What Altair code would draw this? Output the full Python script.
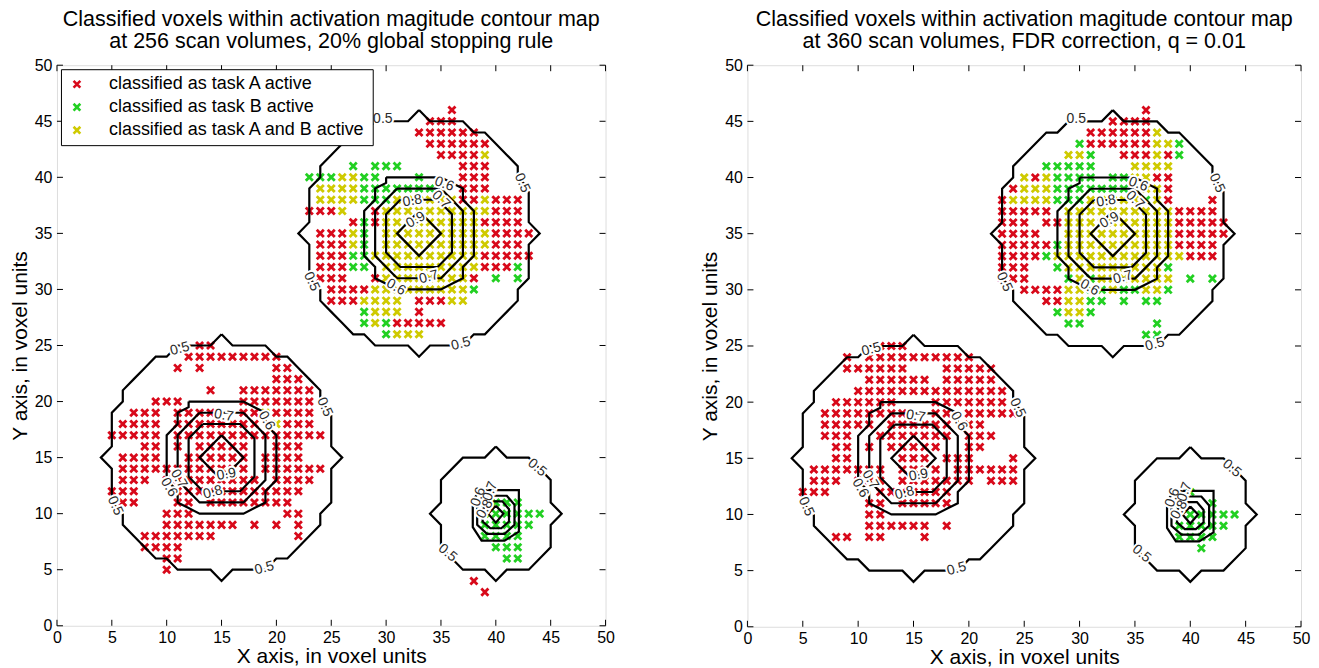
import altair as alt
import pandas as pd

FONT = "Liberation Sans"
RED, GREEN, YELLOW = "#d8091a", "#22d022", "#cfca00"
CATS = ["classified as task A active", "classified as task B active",
        "classified as task A and B active"]
CODE = {"R": CATS[0], "G": CATS[1], "Y": CATS[2]}
TICKS = [0, 5, 10, 15, 20, 25, 30, 35, 40, 45, 50]

TITLE_L = ["Classified voxels within activation magitude contour map",
           "at 256 scan volumes, 20% global stopping rule"]
TITLE_R = ["Classified voxels within activation magitude contour map",
           "at 360 scan volumes, FDR correction, q = 0.01"]
X_TITLE = "X axis, in voxel units"
Y_TITLE = "Y axis, in voxel units"

# ---- classified voxels: (first x, top y, rows from top to bottom) ----
L_TOP = (23, 46, [
    ".............R.......",
    "...........RRR.......",
    "..........RRRRRR.....",
    "...........RRRRRR....",
    "............RRRRY....",
    "....G.GGG.....RRR....",
    "GGGYYGG...G...RRR....",
    ".YYYYGGGGGGGG.RRR....",
    ".YYYYGGGYYYYYYRRYRRR.",
    "RRRY..RYYYYYYYYYYRRR.",
    "....RGRYYYYYYYYYRRRR.",
    ".RRRYG.YYYYYYYYYYRRRR",
    ".RRRYG.YYYYYYYYYYRRR.",
    ".RRRGGYYYYYYYYYYRRRRR",
    ".RRRGG.YYYYYYYYYRRRG.",
    ".RRR..RYYYYYYYYR.G.G.",
    "..RRRRYYYYYYYYYG.....",
    "..RRRYYYY.RRRYY......",
    ".....GYYY.R..........",
    ".....GYGRRRRR........",
    ".......GYYY..........",
])
L_LOW = (5, 25, [
    "........RR..........",
    ".......RRRRRRRRR....",
    "......R.R......RR...",
    "...............RRR..",
    ".........R..RRRRRRR.",
    "....RRR.....RRRRRRR.",
    "..RRR.RRRR..RRYRRRR.",
    ".RRRR.RRRRRRRR.YRRR.",
    "RRRRR.RRRRRRRRRRRRRR",
    "...RR.R.RRRRR..RRR..",
    ".RRRR..RRRRRR.RRRR..",
    ".RRRRRRRRRRRR.RRRRRR",
    ".RRR.RRRRRRRRR.RRRR.",
    "RRR...RRRRRRRRRRRR..",
    ".RR...RR.RRRRRRRR...",
    ".....RRR........RR..",
    ".....RRRRRRR.R.R.R..",
    "...RRRRRRR.......R..",
    "...RRRR.............",
    ".....RR.............",
    ".....R..............",
])
L_SMALL = (38, 11, [
    ".GGGG..",
    ".GGGGGG",
    ".GGGGG.",
    ".GGGG..",
    "..GGG..",
    "...GG..",
    ".......",
    "R......",
    ".R.....",
])
R_TOP = (23, 46, [
    ".............R.......",
    "..........RRRR.......",
    "........RRRRRRY......",
    ".......GRRRRRRYYG....",
    "......YYG..RRRYRG....",
    "....GGGGG...YYYY.....",
    "..YRYGGGG.GGYYRR.....",
    ".RYYYGGGGGGGGYYR.....",
    "RYYYYGGGYYYYYGYR...R.",
    "RRRRR.YYYYYYYYYYRRRR.",
    "RRR.RRYYYYYYYYYYRRRRR",
    "RRRR..YYYYYYYYYYRRRRR",
    "RRRRRGYYYYYYYYYYRRRR.",
    "RRRRGYYYYYYYYYYYYRRR.",
    "RRR..GYYYYYYYYYG.....",
    "RRR...GYGYYYYYYY.G.G.",
    "..RRRRYYGGYGGYYG.....",
    "....RRYYGG.G.GG......",
    ".....GYYG............",
    "......GG......G......",
    ".............GG......",
])
R_LOW = (5, 25, [
    ".......RRR..........",
    "....R.RRRRRRRRRR....",
    "....RRRRRR...RRRRR..",
    "......RRRRRR.RRRRR..",
    ".....RRRRRRRRRRRRRR.",
    "...RRRRRR...RRRRRRR.",
    "..RRRRRRRR..RR.RRRRR",
    "..RRRRR.RRRRRR.RR...",
    "..RRR..RRRRRRR.RRR..",
    "...RR.R.RRRRR..RR...",
    "...RR....RRR.RRR...R",
    ".RRRRRRR.RRRR.RRRRRR",
    ".RRR.RRR.RRRRRRR.RRR",
    "RRR....RRRRRRR......",
    "......RR.RRRRR......",
    "......RR............",
    "......RRRRRR.R......",
    "...RR.RR...R........",
])
R_SMALL = (39, 12, [
    ".G....",
    "G..G..",
    ".GGGGG",
    "GGGGG.",
    "GGGG..",
    "..G...",
])

# ---- activation-magnitude contours (vertex offsets from each blob centre) ----
BIG_CENTRES = [(33, 35), (15, 15)]
SMALL_CENTRE = (40, 10)
C05 = [(0, 11), (1, 10), (4, 10), (5, 9), (6, 9), (7, 8), (8, 7), (9, 6), (9, 5), (10, 4),
       (10, 1), (11, 0), (10, -1), (10, -4), (9, -5), (9, -6), (8, -7), (7, -8), (6, -9),
       (5, -9), (4, -10), (1, -10), (0, -11), (-1, -10), (-4, -10), (-5, -9), (-6, -9),
       (-7, -8), (-8, -7), (-9, -6), (-9, -5), (-10, -4), (-10, -1), (-11, 0), (-10, 1),
       (-10, 4), (-9, 5), (-9, 6), (-8, 7), (-7, 8), (-6, 9), (-5, 9), (-4, 10), (-1, 10),
       (0, 11)]
C06 = [(-3, 5), (2, 5), (3, 4.5), (4, 4), (4, 3), (5, 2), (5, -2), (4, -3), (4, -4),
       (3, -4.5), (2, -5), (-2, -5), (-3, -4.5), (-4, -4), (-4, -3), (-5, -2), (-5, 2),
       (-4, 3), (-4, 4), (-3, 4.5), (-3, 5)]
C07 = [(-2, 4), (2, 4), (3, 3), (4, 2), (4, -2), (3, -3), (2, -4), (-2, -4), (-3, -3),
       (-4, -2), (-4, 2), (-3, 3), (-2, 4)]
C08 = [(-1.7, 3), (1.7, 3), (3, 1.7), (3, -1.7), (1.7, -3), (-1.7, -3), (-3, -1.7),
       (-3, 1.7), (-1.7, 3)]
C09 = [(0, 2), (2, 0), (0, -2), (-2, 0), (0, 2)]
S05 = [(0, 6), (1, 5), (3, 5), (5, 3), (5, 1), (6, 0), (5, -1), (5, -3), (3, -5), (1, -5),
       (0, -6), (-1, -5), (-3, -5), (-5, -3), (-5, -1), (-6, 0), (-5, 1), (-5, 3), (-3, 5),
       (-1, 5), (0, 6)]
S06 = [(-1.4, 2.1), (2.1, 2.1), (2.1, -1.6), (0.8, -2.4), (-1.3, -2.4), (-2.1, -1.2),
       (-2.1, 1.2), (-1.4, 2.1)]
S07 = [(-1, 1.6), (1, 1.6), (1.7, 0.8), (1.7, -1), (0.8, -1.8), (-0.8, -1.8), (-1.7, -1),
       (-1.7, 0.8), (-1, 1.6)]
S08 = [(-0.5, 1.1), (0.6, 1.1), (1.2, 0.4), (1.2, -0.7), (0.5, -1.3), (-0.5, -1.3),
       (-1.2, -0.7), (-1.2, 0.4), (-0.5, 1.1)]
S09 = [(0, 0.7), (0.7, 0), (0, -0.8), (-0.7, 0), (0, 0.7)]

# contour labels: text, x, y, rotation (degrees clockwise)
LABELS = [
    ("0.5", 29.7, 45.2, 0), ("0.5", 42.4, 39.5, 65), ("0.5", 23.2, 30.7, 65),
    ("0.5", 36.8, 25.15, 345), ("0.6", 35.3, 39.4, 20), ("0.7", 35.0, 38.0, 45),
    ("0.8", 32.4, 37.9, 350), ("0.9", 32.7, 36.2, 330), ("0.7", 33.9, 31.1, 345),
    ("0.6", 30.9, 30.2, 30),
    ("0.5", 11.2, 24.7, 345), ("0.5", 5.3, 10.7, 65), ("0.5", 18.9, 5.15, 345),
    ("0.5", 24.4, 19.5, 65), ("0.7", 15.2, 18.75, 10), ("0.6", 19.1, 18.3, 60),
    ("0.9", 15.45, 13.5, 350), ("0.8", 14.2, 11.9, 345), ("0.7", 11.1, 13.1, 60),
    ("0.6", 10.2, 12.35, 60),
    ("0.5", 43.75, 14.1, 40), ("0.5", 35.6, 6.5, 40), ("0.6", 38.4, 11.5, 290),
    ("0.7", 39.5, 12.0, 290), ("0.8", 39.0, 10.4, 300),
]


def grid_points(*grids):
    out = []
    for x0, ytop, rows in grids:
        for i, row in enumerate(rows):
            for j, ch in enumerate(row):
                if ch in CODE:
                    out.append({"x": x0 + j, "y": ytop - i, "cls": CODE[ch]})
    return pd.DataFrame(out)


contour_rows = []
for cx, cy in BIG_CENTRES:
    for lev, offs in (("5", C05), ("6", C06), ("7", C07), ("8", C08), ("9", C09)):
        for k, (dx, dy) in enumerate(offs):
            contour_rows.append({"x": cx + dx, "y": cy + dy, "cid": f"{cx}_{lev}", "o": k})
for lev, offs in (("5", S05), ("6", S06), ("7", S07), ("8", S08), ("9", S09)):
    for k, (dx, dy) in enumerate(offs):
        contour_rows.append({"x": SMALL_CENTRE[0] + dx, "y": SMALL_CENTRE[1] + dy,
                             "cid": f"s_{lev}", "o": k})
contours = pd.DataFrame(contour_rows)
labels = pd.DataFrame(LABELS, columns=["t", "x", "y", "a"])
ticks = pd.DataFrame({"t": TICKS})

XPATH = "M-1,-1L1,1M1,-1L-1,1"


def panel(points, title, w, h):
    xs = alt.Scale(domain=[0, 50], nice=False, zero=False)
    ys = alt.Scale(domain=[0, 50], nice=False, zero=False)
    xax = alt.Axis(values=TICKS, ticks=False, domain=False, grid=False, labelFontSize=16,
                   labelPadding=4, titleFontSize=21, titleFontWeight="normal",
                   titlePadding=0, labelColor="black", titleColor="black", labelFlush=False)
    yax = alt.Axis(values=TICKS, ticks=False, domain=False, grid=False, labelFontSize=16,
                   labelPadding=5, titleFontSize=21, titleFontWeight="normal",
                   titlePadding=4, labelColor="black", titleColor="black", labelFlush=False)

    def X(f):
        return alt.X(f, type="quantitative", scale=xs, axis=xax, title=X_TITLE)

    def Y(f):
        return alt.Y(f, type="quantitative", scale=ys, axis=yax, title=Y_TITLE)

    pts = alt.Chart(points).mark_point(shape=XPATH, filled=False, strokeWidth=2.8,
                                       size=50, opacity=1).encode(
        x=X("x"), y=Y("y"),
        color=alt.Color("cls:N", scale=alt.Scale(domain=CATS, range=[RED, GREEN, YELLOW]),
                        legend=alt.Legend(title=None, orient="top-left", offset=4,
                                          fillColor="white", strokeColor="black",
                                          padding=6, labelFontSize=18, labelFont=FONT,
                                          labelColor="black", labelLimit=500,
                                          symbolType=XPATH,
                                          symbolSize=46, symbolStrokeWidth=2.6,
                                          rowPadding=5, labelOffset=23, symbolOffset=1)))
    lines = alt.Chart(contours).mark_line(color="black", strokeWidth=2.2).encode(
        x=X("x"), y=Y("y"), detail="cid:N", order="o:Q")
    halo = alt.Chart(labels).mark_text(font=FONT, fontSize=14, color="white", stroke="white",
                                       strokeWidth=4).encode(
        x=X("x"), y=Y("y"), text="t:N", angle=alt.Angle("a:Q", scale=None))
    txt = alt.Chart(labels).mark_text(font=FONT, fontSize=14, color="#2a2a2a").encode(
        x=X("x"), y=Y("y"), text="t:N", angle=alt.Angle("a:Q", scale=None))
    base = alt.Chart(ticks).mark_rule(color="black", strokeWidth=1)
    t_top = base.encode(x=X("t"), y=alt.value(0), y2=alt.value(6))
    t_bot = base.encode(x=X("t"), y=alt.value(h), y2=alt.value(h - 6))
    t_lft = base.encode(y=Y("t"), x=alt.value(0), x2=alt.value(6))
    t_rgt = base.encode(y=Y("t"), x=alt.value(w), x2=alt.value(w - 6))
    return alt.layer(pts, lines, halo, txt, t_top, t_bot, t_lft, t_rgt).properties(
        width=w, height=h,
        title=alt.TitleParams(text=title, fontSize=21.5, font=FONT, fontWeight="normal",
                              anchor="middle", offset=5, lineHeight=22, color="black"))


left = panel(grid_points(L_TOP, L_LOW, L_SMALL), TITLE_L, 549, 561)
right = panel(grid_points(R_TOP, R_LOW, R_SMALL), TITLE_R, 554, 562)

chart = alt.hconcat(left, right, spacing=142, bounds="flush", padding=0).configure_view(
    stroke="black", strokeWidth=1).configure_axis(labelFont=FONT, titleFont=FONT
).configure(background="white")

chart.save("out.html", embed_options={"renderer": "svg", "actions": False})
